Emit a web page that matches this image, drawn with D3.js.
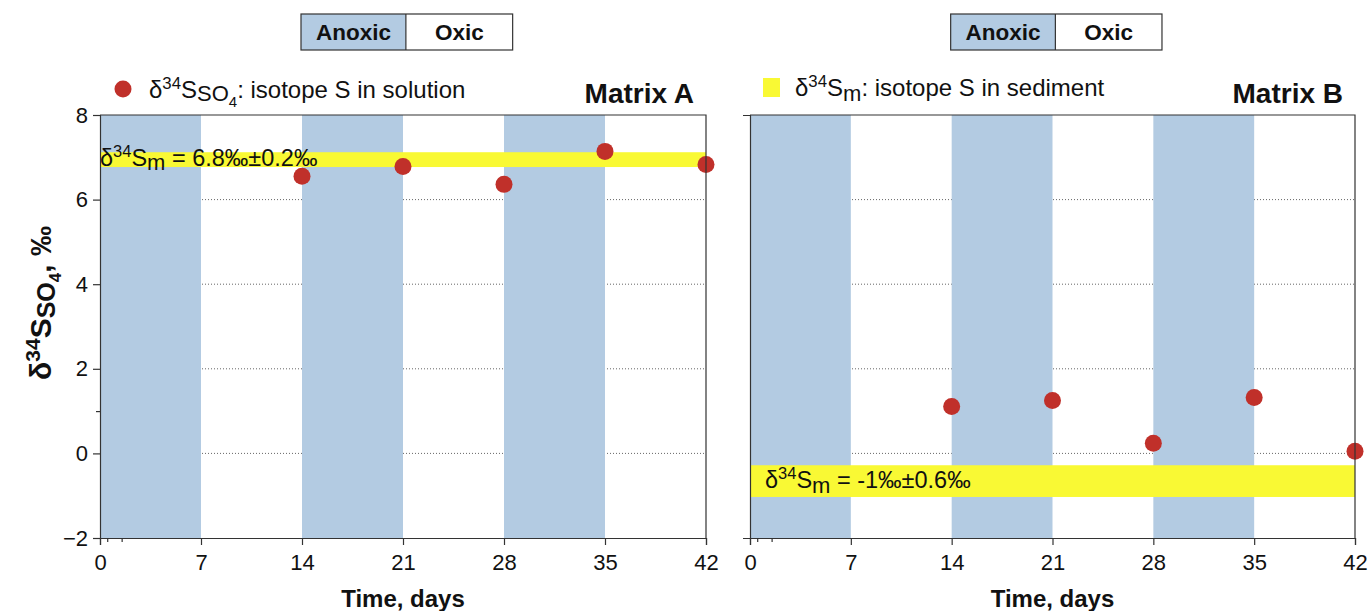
<!DOCTYPE html>
<html>
<head>
<meta charset="utf-8">
<script src="https://cdn.jsdelivr.net/npm/d3@7"></script>
<style>
  body { margin: 0; background: #fff; }
  svg text { font-family: "Liberation Sans", Arial, sans-serif; fill: #111; }
</style>
</head>
<body>
<div id="chart"></div>
<script>
// data
const days = [14, 21, 28, 35, 42];
const solutionA = [6.55, 6.78, 6.36, 7.14, 6.83];
const solutionB = [1.11, 1.25, 0.24, 1.32, 0.05];
const sedimentBandA = [6.77, 7.12];
const sedimentBandB = [-1.03, -0.28];
const bandTextA = ' = 6.8‰±0.2‰';
const bandTextB = ' = -1‰±0.6‰';
const anoxicPeriods = [[0, 7], [14, 21], [28, 35]];
const xTicks = [0, 7, 14, 21, 28, 35, 42];
const xMinorTicks = [0.5, 1.5];
const yTicks = [-2, 0, 2, 4, 6, 8];
const yMinorTicks = [1];
const gridValues = [0, 2, 4, 6];

const W = 1369, H = 611;
const BLUE = '#b3cbe2', YELLOW = '#f9f934', RED = '#c0302a', AXIS = '#333';

const svg = d3.select('#chart').append('svg')
    .attr('width', W).attr('height', H);

const y = d3.scaleLinear().domain([-2, 8]).range([538, 115]);

const panels = [
  {name: 'Matrix A', left: 100, right: 706, pts: solutionA,
    band: sedimentBandA, bandText: bandTextA, showY: true},
  {name: 'Matrix B', left: 750, right: 1355, pts: solutionB,
    band: sedimentBandB, bandText: bandTextB, showY: false}
];

// writes δ34S into a text node
const deltaS = (sel, size) => {
  sel.append('tspan').text('δ');
  sel.append('tspan').attr('dy', -size * 0.38)
      .attr('font-size', size * 0.7).text('34');
  sel.append('tspan').attr('dy', size * 0.38).text('S');
};

panels.forEach((p) => {
  const x = d3.scaleLinear().domain([0, 42]).range([p.left, p.right]);
  const g = svg.append('g');

  // dotted grid (covered by the anoxic bands)
  g.selectAll('.grid')
      .data(gridValues)
      .enter()
      .append('line')
      .attr('x1', p.left).attr('x2', p.right)
      .attr('y1', (d) => y(d)).attr('y2', (d) => y(d))
      .attr('stroke', '#666')
      .attr('stroke-width', 1)
      .attr('stroke-dasharray', '1,2');

  // anoxic periods
  g.selectAll('.anoxic')
      .data(anoxicPeriods)
      .enter()
      .append('rect')
      .attr('x', (d) => x(d[0]))
      .attr('width', (d) => x(d[1]) - x(d[0]))
      .attr('y', y(8))
      .attr('height', y(-2) - y(8))
      .attr('fill', BLUE);

  // sediment isotope band
  g.append('rect')
      .attr('x', p.left)
      .attr('width', p.right - p.left)
      .attr('y', y(p.band[1]))
      .attr('height', y(p.band[0]) - y(p.band[1]))
      .attr('fill', YELLOW);

  const bt = g.append('text');
  if (p.showY) {
    bt.attr('x', p.left).attr('y', y(p.band[0]) - 1).attr('font-size', 23.5);
    deltaS(bt, 23.5);
    bt.append('tspan').attr('dy', 4).attr('font-size', 22).text('m');
    bt.append('tspan').attr('dy', -4).text(p.bandText);
  } else {
    bt.attr('x', p.left + 15).attr('y', y(p.band[0]) - 9).attr('font-size', 23.5);
    deltaS(bt, 23.5);
    bt.append('tspan').attr('dy', 5).attr('font-size', 22).text('m');
    bt.append('tspan').attr('dy', -5).text(p.bandText);
  }

  // solution isotope points
  g.selectAll('.pt')
      .data(days.map((d, i) => ({day: d, v: p.pts[i]})))
      .enter()
      .append('circle')
      .attr('cx', (d) => x(d.day))
      .attr('cy', (d) => y(d.v))
      .attr('r', 8.5)
      .attr('fill', RED);

  // frame
  g.append('path')
      .attr('d', `M${p.left},${y(8)}H${p.right}V${y(-2)}`)
      .attr('fill', 'none')
      .attr('stroke', AXIS)
      .attr('stroke-width', 1.2);

  // x axis
  const xa = g.append('g')
      .attr('transform', `translate(0,${y(-2)})`)
      .call(d3.axisBottom(x).tickValues(xTicks).tickSize(7).tickPadding(9)
          .tickFormat(d3.format('d')));
  xa.selectAll('text').attr('font-size', 22);
  g.append('g')
      .attr('transform', `translate(0,${y(-2)})`)
      .call(d3.axisBottom(x).tickValues(xMinorTicks).tickSize(4)
          .tickFormat(''))
      .select('.domain').remove();

  // y axis
  const ya = g.append('g')
      .attr('transform', `translate(${p.left},0)`)
      .call(d3.axisLeft(y).tickValues(p.showY ? yTicks : [])
          .tickSize(7).tickPadding(5)
          .tickFormat((d) => d < 0 ? '−' + Math.abs(d) : d));
  ya.selectAll('text').attr('font-size', 22);
  if (p.showY) {
    g.append('g')
        .attr('transform', `translate(${p.left},0)`)
        .call(d3.axisLeft(y).tickValues(yMinorTicks).tickSize(4)
            .tickFormat(''))
        .select('.domain').remove();
  }
  svg.selectAll('.domain, .tick line')
      .attr('stroke', AXIS).attr('stroke-width', 1.2);

  // x label
  g.append('text')
      .attr('x', (p.left + p.right) / 2)
      .attr('y', 607)
      .attr('text-anchor', 'middle')
      .attr('font-size', 24)
      .attr('font-weight', 'bold')
      .text('Time, days');

  // matrix title
  g.append('text')
      .attr('x', p.right - 12)
      .attr('y', 103)
      .attr('text-anchor', 'end')
      .attr('font-size', 28)
      .attr('font-weight', 'bold')
      .text(p.name);

  // Anoxic / Oxic key
  const keyLeft = x(14) - 1;
  const keyMid = x(21.2);
  const keyRight = x(28.6);
  const key = svg.append('g');
  key.append('rect')
      .attr('x', keyLeft).attr('y', 14)
      .attr('width', keyMid - keyLeft).attr('height', 36)
      .attr('fill', BLUE);
  key.append('rect')
      .attr('x', keyLeft).attr('y', 14)
      .attr('width', keyRight - keyLeft).attr('height', 36)
      .attr('fill', 'none')
      .attr('stroke', AXIS).attr('stroke-width', 1.2);
  key.append('line')
      .attr('x1', keyMid).attr('x2', keyMid)
      .attr('y1', 14).attr('y2', 50)
      .attr('stroke', AXIS).attr('stroke-width', 1.2);
  key.append('text')
      .attr('x', (keyLeft + keyMid) / 2).attr('y', 40)
      .attr('text-anchor', 'middle')
      .attr('font-size', 22.5).attr('font-weight', 'bold')
      .text('Anoxic');
  key.append('text')
      .attr('x', (keyMid + keyRight) / 2).attr('y', 40)
      .attr('text-anchor', 'middle')
      .attr('font-size', 22.5).attr('font-weight', 'bold')
      .text('Oxic');
});

// legends
const legA = svg.append('g');
legA.append('circle').attr('cx', 123).attr('cy', 89).attr('r', 8.5)
    .attr('fill', RED);
const lta = legA.append('text').attr('x', 149).attr('y', 98)
    .attr('font-size', 24);
deltaS(lta, 24);
lta.append('tspan').attr('dy', 3).attr('font-size', 22).text('SO');
lta.append('tspan').attr('dy', 6).attr('font-size', 15).text('4');
lta.append('tspan').attr('dy', -9).text(': isotope S in solution');

const legB = svg.append('g');
legB.append('rect').attr('x', 763).attr('y', 78)
    .attr('width', 17).attr('height', 19).attr('fill', YELLOW);
const ltb = legB.append('text').attr('x', 795).attr('y', 96)
    .attr('font-size', 24);
deltaS(ltb, 24);
ltb.append('tspan').attr('dy', 5).attr('font-size', 22).text('m');
ltb.append('tspan').attr('dy', -5).text(': isotope S in sediment');

// y axis title
const yt = svg.append('text')
    .attr('transform', 'translate(51,303) rotate(-90)')
    .attr('text-anchor', 'middle')
    .attr('font-size', 30)
    .attr('font-weight', 'bold');
deltaS(yt, 30);
yt.append('tspan').attr('dy', 4).attr('font-size', 25).text('SO');
yt.append('tspan').attr('dy', 6).attr('font-size', 17).text('4');
yt.append('tspan').attr('dy', -10).text(', ‰');
</script>
</body>
</html>
